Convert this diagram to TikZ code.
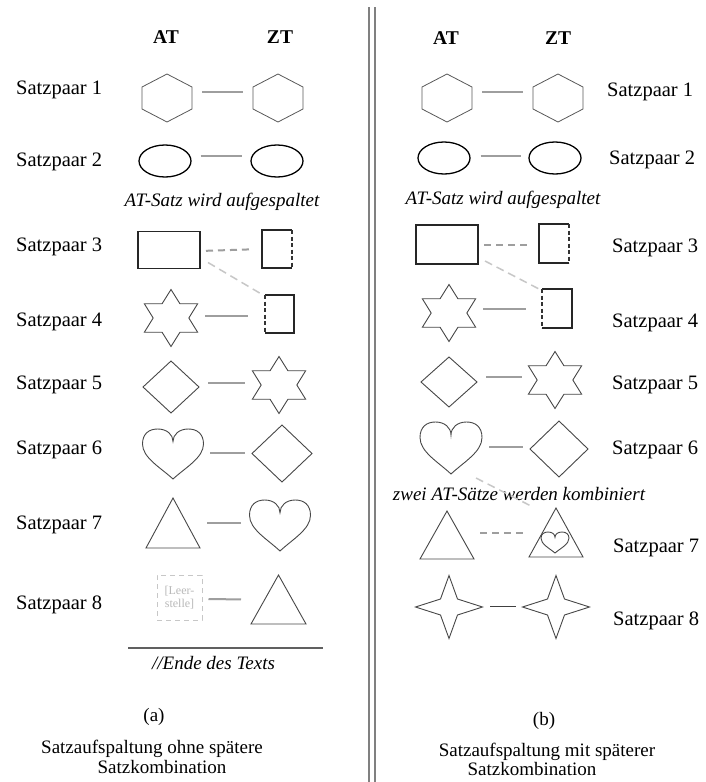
\documentclass[tikz,border=0pt]{standalone}
\usepackage{fontspec}
\setmainfont{Liberation Serif}
\usetikzlibrary{shapes.geometric}
\definecolor{conncol}{gray}{0.62}
\definecolor{shapecol}{gray}{0.28}
\definecolor{hexcol}{gray}{0.35}
\definecolor{faint}{gray}{0.78}
\definecolor{divcol}{gray}{0.5}
\newcommand{\myhex}[1]{\draw[hexs, shift={(#1.center)}] (0,-24) -- (25,-11) -- (25,11) -- (0,24) -- (-25,11) -- (-25,-11) -- cycle;}
\newcommand{\mystarsix}[1]{\draw[shp, shift={(#1.center)}, xscale=1.08] (90:28.5) -- (120:16.5) -- (150:28.5) -- (180:16.5) -- (210:28.5) -- (240:16.5) -- (270:28.5) -- (300:16.5) -- (330:28.5) -- (360:16.5) -- (390:28.5) -- (420:16.5) -- cycle;}
\newcommand{\mystarfour}[1]{\draw[shp, shift={(#1.center)}] (0,-31.5) -- (8.5,-8) -- (33.5,0) -- (8.5,8) -- (0,31.5) -- (-8.5,8) -- (-33.5,0) -- (-8.5,-8) -- cycle;}
\newcommand{\mydiamond}[1]{\draw[shp] (#1.north) -- (#1.east) -- (#1.south) -- (#1.west) -- cycle;}
\newcommand{\mytriangle}[1]{\draw[shp] (#1.north) -- (#1.south east) -- (#1.south west) -- cycle;}
\newcommand{\myheart}[3]{\draw[shp, shift={(#1.center)}, xscale=#2, yscale=#3] (0,1) .. controls (-0.4,0.55) and (-1,0.15) .. (-1,-0.4) .. controls (-1,-0.82) and (-0.78,-1) .. (-0.5,-1) .. controls (-0.2,-1) and (0,-0.78) .. (0,-0.5) .. controls (0,-0.78) and (0.2,-1) .. (0.5,-1) .. controls (0.78,-1) and (1,-0.82) .. (1,-0.4) .. controls (1,0.15) and (0.4,0.55) .. (0,1) -- cycle;}
\begin{document}
\begin{tikzpicture}[x=1pt,y=-1pt,
  bbox/.style n args={2}{minimum width=#1pt,minimum height=#2pt,inner sep=0pt,outer sep=0pt},
  shp/.style={draw=shapecol,line width=0.9pt,line join=miter},
  hexs/.style={draw=hexcol,line width=0.8pt},
  ell/.style={ellipse,draw=black,line width=1.3pt,minimum width=52pt,minimum height=32pt,inner sep=0pt},
  rectthick/.style={draw=black!85,line width=1.6pt},
  dashside/.style={draw=black!80,line width=1.1pt,dash pattern=on 4pt off 2.5pt},
  conn/.style={draw=conncol,line width=2pt},
  connd/.style={draw=conncol,line width=2pt,dash pattern=on 7pt off 5pt},
  diag/.style={draw=faint,line width=1.5pt,dash pattern=on 8pt off 5pt},
  leer/.style={draw=faint,line width=1pt,dash pattern=on 5pt off 4pt,minimum width=45pt,minimum height=45pt,inner sep=0pt,text=gray!55,font=\fontsize{12}{13}\selectfont,align=center},
  lbl/.style={font=\fontsize{20.5}{24}\selectfont,anchor=west,inner sep=0pt},
  hdr/.style={font=\bfseries\fontsize{19.5}{22}\selectfont,inner sep=0pt},
  ittxt/.style={font=\itshape\fontsize{19}{22}\selectfont,inner sep=0pt},
  captxt/.style={font=\fontsize{19}{22}\selectfont,inner sep=0pt},
  divline/.style={draw=divcol,line width=1.5pt}
]
\fill[white] (0,0) rectangle (706,782);
\useasboundingbox (0,0) rectangle (706,782);

% divider
\coordinate (d1t) at (369,7); \coordinate (d1b) at (369,782);
\coordinate (d2t) at (375,7); \coordinate (d2b) at (375,782);
\draw[divline] (d1t) -- (d1b);
\draw[divline] (d2t) -- (d2b);

% ================= LEFT PANEL =================
\node[hdr] (hAT1) at (166,37) {AT};
\node[hdr] (hZT1) at (280,37) {ZT};
\node[lbl] (l1) at (16,90) {Satzpaar 1};
\node[lbl] (l2) at (16,162) {Satzpaar 2};
\node[lbl] (l3) at (16,247) {Satzpaar 3};
\node[lbl] (l4) at (16,322) {Satzpaar 4};
\node[lbl] (l5) at (16,385) {Satzpaar 5};
\node[lbl] (l6) at (16,450) {Satzpaar 6};
\node[lbl] (l7) at (16,525) {Satzpaar 7};
\node[lbl] (l8) at (16,605) {Satzpaar 8};

% row 1
\node[bbox={50}{48}] (a1) at (167,98) {};
\node[bbox={50}{48}] (z1) at (278,98) {};
\myhex{a1} \myhex{z1}
\draw[conn,shorten <=10pt,shorten >=10pt] ([yshift=6pt]a1.east) -- ([yshift=6pt]z1.west);
% row 2
\node[ell] (a2) at (165,161) {};
\node[ell] (z2) at (277,161) {};
\draw[conn,shorten <=9pt,shorten >=8pt] ([yshift=5pt]a2.east) -- ([yshift=5pt]z2.west);
\node[ittxt] (split1) at (222,202) {AT-Satz wird aufgespaltet};
% row 3
\node[bbox={62}{37},rectthick] (a3) at (169,250) {};
\node[bbox={30}{38}] (z3) at (277,249) {};
\draw[rectthick] (z3.north east) -- (z3.north west) -- (z3.south west) -- (z3.south east);
\draw[dashside] (z3.north east) -- (z3.south east);
\draw[connd,shorten <=6pt,shorten >=13pt] ([yshift=-1pt]a3.east) -- (z3.west);
% row 4
\node[bbox={54}{57}] (a4) at (171,318) {};
\mystarsix{a4}
\node[bbox={29}{38}] (z4) at (279.5,314) {};
\draw[rectthick] (z4.north west) -- (z4.north east) -- (z4.south east) -- (z4.south west);
\draw[dashside] (z4.north west) -- (z4.south west);
\draw[conn,shorten <=7pt,shorten >=17pt] ([yshift=2pt]a4.east) -- ([yshift=-2pt]z4.west);
\draw[diag] ([xshift=8pt,yshift=6pt]a3.south east) -- ([xshift=-2pt]z4.north west);
% row 5
\node[bbox={56}{52}] (a5) at (171,387) {};
\mydiamond{a5}
\node[bbox={54}{57}] (z5) at (279,385) {};
\mystarsix{z5}
\draw[conn,shorten <=9pt,shorten >=7pt] ([yshift=4pt]a5.east) -- ([yshift=2pt]z5.west);
% row 6
\node[bbox={61}{50}] (a6) at (173,454) {};
\myheart{a6}{30.5}{25}
\node[bbox={60}{57}] (z6) at (282,453.5) {};
\mydiamond{z6}
\draw[conn,shorten <=6.5pt,shorten >=7pt] ([yshift=1pt]a6.east) -- ([yshift=0.5pt]z6.west);
% row 7
\node[bbox={54}{50}] (a7) at (173,523) {};
\mytriangle{a7}
\node[bbox={61}{51}] (z7) at (280,525.5) {};
\myheart{z7}{30.5}{25.5}
\draw[conn,shorten <=7pt,shorten >=8.5pt] (a7.east) -- ([yshift=2.5pt]z7.west);
% row 8
\node[leer] (a8) at (179.5,597.5) {[Leer-\\stelle]};
\node[bbox={55}{49}] (z8) at (278.5,599.5) {};
\mytriangle{z8}
\draw[conn,shorten <=6pt,shorten >=10pt] ([yshift=-1.5pt]a8.east) -- (z8.west);
% end of text
\coordinate (e1) at (128,648); \coordinate (e2) at (323,648);
\draw[draw=gray!75!black,line width=2pt] (e1) -- (e2);
\node[ittxt] (ende) at (213.5,663) {//Ende des Texts};
% caption a
\node[captxt] (capa) at (154,717) {(a)};
\node[captxt] (capa1) at (152,749) {Satzaufspaltung ohne spätere};
\node[captxt] (capa2) at (162,767) {Satzkombination};

% ================= RIGHT PANEL =================
\node[hdr] (hAT2) at (446,38) {AT};
\node[hdr] (hZT2) at (558,38) {ZT};
\node[lbl] (r1) at (607,92) {Satzpaar 1};
\node[lbl] (r2) at (609,160) {Satzpaar 2};
\node[lbl] (r3) at (612,248) {Satzpaar 3};
\node[lbl] (r4) at (612,323) {Satzpaar 4};
\node[lbl] (r5) at (612,385) {Satzpaar 5};
\node[lbl] (r6) at (612,450) {Satzpaar 6};
\node[lbl] (r7) at (613,548) {Satzpaar 7};
\node[lbl] (r8) at (613,621) {Satzpaar 8};

% row 1
\node[bbox={50}{48}] (b1) at (447,98) {};
\node[bbox={50}{48}] (y1) at (558,98) {};
\myhex{b1} \myhex{y1}
\draw[conn,shorten <=10pt,shorten >=10pt] ([yshift=6pt]b1.east) -- ([yshift=6pt]y1.west);
% row 2
\node[ell] (b2) at (444,158) {};
\node[ell] (y2) at (555,158) {};
\draw[conn,shorten <=10pt,shorten >=7pt] ([yshift=2pt]b2.east) -- ([yshift=2pt]y2.west);
\node[ittxt] (split2) at (503,200) {AT-Satz wird aufgespaltet};
% row 3
\node[bbox={62}{39},rectthick] (b3) at (447,244.5) {};
\node[bbox={30}{39}] (y3) at (554,243.5) {};
\draw[rectthick] (y3.north east) -- (y3.north west) -- (y3.south west) -- (y3.south east);
\draw[dashside] (y3.north east) -- (y3.south east);
\draw[connd,shorten <=6pt,shorten >=12pt] (b3.east) -- ([yshift=-1pt]y3.west);
% row 4
\node[bbox={54}{58}] (b4) at (449,313) {};
\mystarsix{b4}
\node[bbox={30}{39}] (y4) at (557,308.5) {};
\draw[rectthick] (y4.north west) -- (y4.north east) -- (y4.south east) -- (y4.south west);
\draw[dashside] (y4.north west) -- (y4.south west);
\draw[conn,shorten <=7pt,shorten >=16pt] ([yshift=4pt]b4.east) -- ([yshift=-0.5pt]y4.west);
\draw[diag] ([xshift=7pt,yshift=3pt]b3.south east) -- ([xshift=-3pt]y4.north west);
% row 5
\node[bbox={56}{50}] (b5) at (449,382) {};
\mydiamond{b5}
\node[bbox={54}{57}] (y5) at (555,380) {};
\mystarsix{y5}
\draw[conn,shorten <=9pt,shorten >=6pt] ([yshift=5pt]b5.east) -- ([yshift=3pt]y5.west);
% row 6
\node[bbox={62}{52}] (b6) at (451,448) {};
\myheart{b6}{31}{26}
\node[bbox={58}{56}] (y6) at (559,449) {};
\mydiamond{y6}
\draw[conn,shorten <=7pt,shorten >=7pt] ([yshift=1pt]b6.east) -- ([yshift=2pt]y6.west);
\node[ittxt] (comb) at (519,494) {zwei AT-Sätze werden kombiniert};
% row 7
\node[bbox={54}{48}] (b7) at (447,535) {};
\mytriangle{b7}
\node[bbox={54}{49}] (y7) at (556,532.5) {};
\mytriangle{y7}
\node[bbox={28}{21}] (y7h) at (555,542.5) {};
\myheart{y7h}{14}{10.5}
\draw[connd,shorten <=6pt,shorten >=6pt] ([yshift=2pt]b7.east) -- ([yshift=-0.5pt]y7.west);
\draw[diag] ([xshift=-6pt,yshift=-4pt]b6.south east) -- ([xshift=-25pt,yshift=2pt]y7.north);
% row 8
\node[bbox={67}{63}] (b8) at (449,607) {};
\mystarfour{b8}
\node[bbox={67}{63}] (y8) at (556,607) {};
\mystarfour{y8}
\draw[draw=black!75,line width=0.9pt,shorten <=7.5pt,shorten >=7pt] ([yshift=1pt]b8.east) -- ([yshift=1pt]y8.west);
% caption b
\node[captxt] (capb) at (544,721) {(b)};
\node[captxt] (capb1) at (547,752) {Satzaufspaltung mit späterer};
\node[captxt] (capb2) at (532,769) {Satzkombination};
\end{tikzpicture}
\end{document}
